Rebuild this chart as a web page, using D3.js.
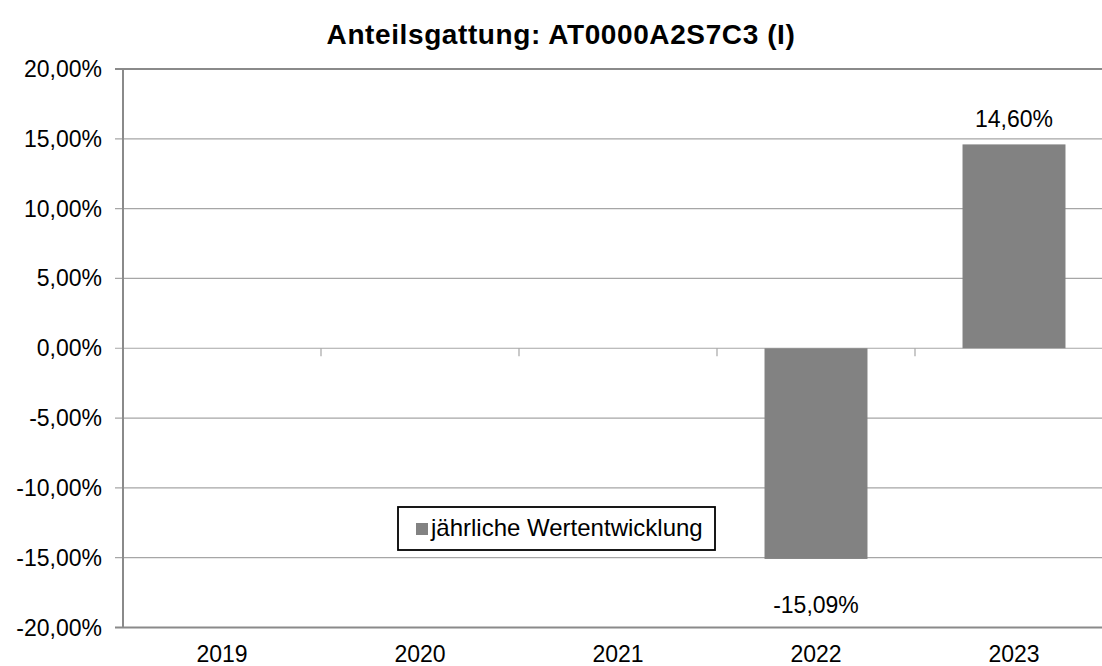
<!DOCTYPE html>
<html>
<head>
<meta charset="utf-8">
<script src="https://cdn.jsdelivr.net/npm/d3@7"></script>
<style>
  body { margin: 0; background: #fff; }
  svg { display: block; font-family: "Liberation Sans", Arial, sans-serif; }
</style>
</head>
<body>
<svg width="1102" height="666"></svg>
<script>
// data
var years = ["2019", "2020", "2021", "2022", "2023"],
    values = [null, null, null, -15.09, 14.60],
    yTicks = [-20, -15, -10, -5, 0, 5, 10, 15, 20];

var title = "Anteilsgattung: AT0000A2S7C3 (I)",
    legendLabel = "jährliche Wertentwicklung";

var svg = d3.select("svg"),
    plotLeft = 123,
    plotRight = 1113,
    plotTop = 69,
    plotBottom = 627.5;

var de = d3.formatLocale({decimal: ",", thousands: ".", grouping: [3], currency: ["", " €"], minus: "-"});
var fmt = v => de.format(".2f")(v) + "%";

var x = d3.scaleBand()
          .domain(years)
          .range([plotLeft, plotRight])
          .paddingInner(0.48)
          .paddingOuter(0.24);

var y = d3.scaleLinear()
          .domain([-20, 20])
          .range([plotBottom, plotTop]);

// title
svg.append("text")
   .attr("x", 561)
   .attr("y", 44)
   .attr("text-anchor", "middle")
   .attr("font-weight", "bold")
   .attr("font-size", 28)
   .attr("letter-spacing", 0.6)
   .attr("fill", "#000")
   .text(title);

// gridlines
svg.append("g")
   .selectAll("line")
   .data(yTicks)
   .enter().append("line")
   .attr("x1", plotLeft - 8)
   .attr("x2", plotRight)
   .attr("y1", d => y(d))
   .attr("y2", d => y(d))
   .attr("stroke", d => (d == 20 || d == -20) ? "#8a8a8a" : "#a6a6a6")
   .attr("stroke-width", d => (d == 20 || d == -20) ? 2 : 1.2);

// y axis line
svg.append("line")
   .attr("x1", plotLeft).attr("x2", plotLeft)
   .attr("y1", plotTop).attr("y2", plotBottom)
   .attr("stroke", "#8a8a8a")
   .attr("stroke-width", 2);

// y tick labels
svg.append("g")
   .selectAll("text")
   .data(yTicks)
   .enter().append("text")
   .attr("x", 102)
   .attr("y", d => y(d) + 8)
   .attr("text-anchor", "end")
   .attr("font-size", 23)
   .attr("fill", "#000")
   .text(fmt);

// category tick marks on the zero line
var step = x.step();
svg.append("g")
   .selectAll("line")
   .data(years.slice(1))
   .enter().append("line")
   .attr("x1", d => x(d) - step * x.paddingInner() / 2)
   .attr("x2", d => x(d) - step * x.paddingInner() / 2)
   .attr("y1", y(0))
   .attr("y2", y(0) + 8)
   .attr("stroke", "#a6a6a6")
   .attr("stroke-width", 1.2);

// bars
var bars = years.map((d, i) => ({year: d, value: values[i]}))
                .filter(d => d.value != null);

svg.append("g")
   .selectAll("rect")
   .data(bars)
   .enter().append("rect")
   .attr("x", d => x(d.year))
   .attr("width", x.bandwidth())
   .attr("y", d => y(Math.max(0, d.value)))
   .attr("height", d => Math.abs(y(d.value) - y(0)))
   .attr("fill", "#828282");

// bar labels
svg.append("g")
   .selectAll("text")
   .data(bars)
   .enter().append("text")
   .attr("x", d => x(d.year) + x.bandwidth() / 2)
   .attr("y", d => d.value >= 0 ? y(d.value) - 17 : y(d.value) + 54)
   .attr("text-anchor", "middle")
   .attr("font-size", 23)
   .attr("fill", "#000")
   .text(d => fmt(d.value));

// x labels
svg.append("g")
   .selectAll("text")
   .data(years)
   .enter().append("text")
   .attr("x", d => x(d) + x.bandwidth() / 2)
   .attr("y", 662)
   .attr("text-anchor", "middle")
   .attr("font-size", 23)
   .attr("fill", "#000")
   .text(d => d);

// legend
var legend = svg.append("g");
legend.append("rect")
      .attr("x", 398).attr("y", 507)
      .attr("width", 317).attr("height", 43)
      .attr("fill", "#fff")
      .attr("stroke", "#000")
      .attr("stroke-width", 1.8);
legend.append("rect")
      .attr("x", 416).attr("y", 523)
      .attr("width", 12).attr("height", 12)
      .attr("fill", "#828282");
legend.append("text")
      .attr("x", 431).attr("y", 536)
      .attr("font-size", 24)
      .attr("fill", "#000")
      .text(legendLabel);
</script>
</body>
</html>
